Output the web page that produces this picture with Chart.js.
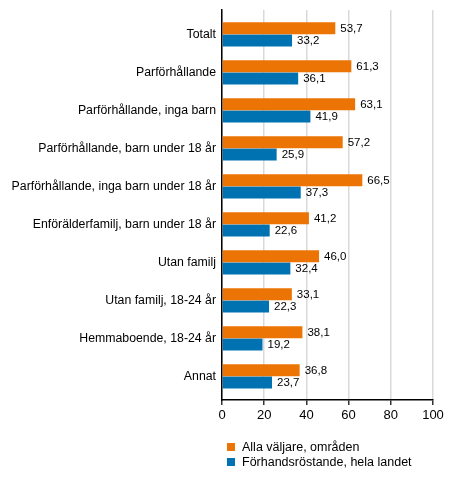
<!DOCTYPE html>
<html>
<head>
<meta charset="utf-8">
<script src="https://cdn.jsdelivr.net/npm/chart.js@4"></script>
<style>
  body { margin: 0; background: #fff; }
  #wrap { position: relative; width: 454px; height: 480px; }
  #legend { position: absolute; left: 227px; top: 440px; font: 12.5px "Liberation Sans", Arial, sans-serif; color: #000; }
  #legend div { height: 15px; line-height: 15px; white-space: nowrap; }
  #legend span { display: inline-block; width: 8px; height: 8px; margin-right: 7px; }
</style>
</head>
<body>
<div id="wrap">
  <canvas id="chart" width="454" height="480"></canvas>
  <div id="legend"></div>
</div>
<script>
const categories = [
  "Totalt",
  "Parförhållande",
  "Parförhållande, inga barn",
  "Parförhållande, barn under 18 år",
  "Parförhållande, inga barn under 18 år",
  "Enförälderfamilj, barn under 18 år",
  "Utan familj",
  "Utan familj, 18-24 år",
  "Hemmaboende, 18-24 år",
  "Annat"
];
const allaValjare = [53.7, 61.3, 63.1, 57.2, 66.5, 41.2, 46.0, 33.1, 38.1, 36.8];
const forhandsrostande = [33.2, 36.1, 41.9, 25.9, 37.3, 22.6, 32.4, 22.3, 19.2, 23.7];
const seriesNames = ["Alla väljare, områden", "Förhandsröstande, hela landet"];
const xTicks = [0, 20, 40, 60, 80, 100];

const colors = ["#ec7404", "#0072b1"];
const font = '"Liberation Sans", Arial, sans-serif';

// category rows on a numeric axis so the empty space above/below matches
const rows = (values) => values.map((v, i) => ({ x: v, y: i }));

const valueLabels = {
  id: "valueLabels",
  afterDatasetsDraw(chart) {
    const ctx = chart.ctx;
    ctx.save();
    ctx.font = "11.5px " + font;
    ctx.fillStyle = "#000";
    ctx.textAlign = "left";
    ctx.textBaseline = "middle";
    chart.data.datasets.forEach((ds, i) => {
      chart.getDatasetMeta(i).data.forEach((bar, j) => {
        const txt = ds.data[j].x.toFixed(1).replace(".", ",");
        ctx.fillText(txt, bar.x + 5, bar.y + 0.5);
      });
    });
    ctx.restore();
  }
};

new Chart(document.getElementById("chart"), {
  type: "bar",
  data: {
    datasets: [
      { label: seriesNames[0], data: rows(allaValjare), backgroundColor: colors[0] },
      { label: seriesNames[1], data: rows(forhandsrostande), backgroundColor: colors[1] }
    ]
  },
  options: {
    indexAxis: "y",
    responsive: false,
    animation: false,
    datasets: { bar: { categoryPercentage: 0.65, barPercentage: 0.97 } },
    layout: { padding: { top: 10, right: 21, bottom: 0, left: 0 } },
    plugins: { legend: { display: false }, tooltip: { enabled: false } },
    scales: {
      x: {
        min: 0,
        max: 100,
        afterBuildTicks: (scale) => { scale.ticks = xTicks.map(v => ({ value: v })); },
        afterFit: (scale) => { scale.height = 80; },
        grid: { color: "#d9d9d9", lineWidth: 1.5, tickLength: 5, tickColor: "#333" },
        border: { color: "#000", width: 1.5 },
        ticks: { color: "#000", padding: 3, font: { family: font, size: 13 } }
      },
      y: {
        type: "linear",
        reverse: true,
        offset: false,
        min: -0.64,
        max: 9.62,
        afterBuildTicks: (scale) => { scale.ticks = categories.map((c, i) => ({ value: i })); },
        afterFit: (scale) => {
          scale.width = 222;
          scale.paddingTop = 0;
          scale.paddingBottom = 0;
        },
        grid: { display: false, drawTicks: false },
        border: { color: "#000", width: 1.5 },
        ticks: {
          color: "#000",
          padding: 6,
          font: { family: font, size: 12.3 },
          callback: (v) => categories[v]
        }
      }
    }
  },
  plugins: [valueLabels]
});

document.getElementById("legend").innerHTML = seriesNames
  .map((n, i) => '<div><span style="background:' + colors[i] + '"></span>' + n + '</div>')
  .join("");
</script>
</body>
</html>
